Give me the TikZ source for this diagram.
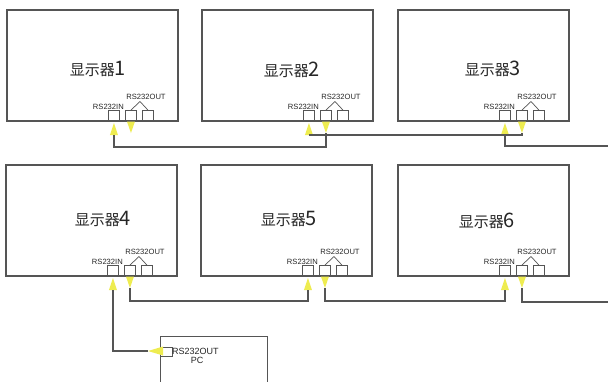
\documentclass[tikz,border=0pt]{standalone}
\usepackage{fontspec}
\setmainfont{Liberation Sans}
\newfontfamily\cjk{Noto Sans CJK SC}
\usetikzlibrary{calc}
\definecolor{ln}{RGB}{85,85,85}
\definecolor{ylw}{RGB}{238,236,80}
\newcommand\dispunit[6]{%
  \node[dispbox] (#1) at ({#2+85.5},{#3-55.5}) {};
  \node[disptext] (#1t) at (#5,#6) {显示器{\fontsize{20}{20}\selectfont #4}};
  \node[port] (#1i) at ({#2+101},#3) {};
  \node[port] (#1o) at ({#2+118},#3) {};
  \node[port] (#1p) at ({#2+135},#3) {};
  \node[lab, anchor=east] (#1li) at ({#2+117},{#3-14}) {RS232IN};
  \node[lab] (#1lo) at ({#2+139},{#3-24}) {RS232OUT};
  \coordinate (#1v) at ({#2+133},{#3-19.5});
  \draw[vline] (#1o.north) -- (#1v) -- (#1p.north);
  \coordinate (#1it) at ($(#1i.south)+(0,2)$);
  \coordinate (#1ib) at ($(#1i.south)+(0,14)$);
  \fill[ylw] (#1it) -- ($(#1ib)+(-4,0)$) -- ($(#1ib)+(4,0)$) -- cycle;
  \coordinate (#1ob) at ($(#1o.south)+(0,0.5)$);
  \coordinate (#1ot) at ($(#1o.south)+(0,12)$);
  \fill[ylw] (#1ot) -- ($(#1ob)+(-4,0)$) -- ($(#1ob)+(4,0)$) -- cycle;
}
\begin{document}
\begin{tikzpicture}[x=1pt,y=-1pt,
  dispbox/.style={draw=ln, line width=1.2pt, minimum width=171pt, minimum height=111pt, inner sep=0pt},
  disptext/.style={font=\cjk\fontsize{15}{15}\selectfont, inner sep=0pt, text=black!85},
  port/.style={draw=ln, line width=0.9pt, minimum width=11pt, minimum height=10pt, inner sep=0pt, anchor=south west},
  lab/.style={font=\fontsize{7.6}{7.6}\selectfont, inner sep=0pt, text=black!85},
  vline/.style={draw=ln, line width=0.7pt},
  wire/.style={draw=ln, line width=1.2pt}]
\useasboundingbox (0,0) rectangle (608,381);
\fill[white] (0,0) rectangle (608,381);
\dispunit{d1}{7}{121}{1}{98}{69}
\dispunit{d2}{202}{121}{2}{292}{70}
\dispunit{d3}{398}{121}{3}{493}{69}
\dispunit{d4}{6}{276}{4}{103}{219}
\dispunit{d5}{201}{276}{5}{289}{219}
\dispunit{d6}{398}{276}{6}{487}{221}
% PC
\begin{scope}
\clip (0,0) rectangle (608,381);
\node[dispbox, minimum width=107pt, minimum height=70pt, anchor=north west] (pc) at (160,336) {};
\end{scope}
\node[draw=ln, line width=0.9pt, minimum width=12pt, minimum height=9pt, inner sep=0pt, anchor=west] (pcp) at (160,351.5) {};
\node[lab, font=\fontsize{9}{9}\selectfont, anchor=west] (pcl) at (172,351) {RS232OUT};
\node[lab, font=\fontsize{9}{9}\selectfont] (pcn) at (197,360) {PC};
\coordinate (pct) at (148,351);
\fill[ylw] (pct) -- (163,346.5) -- (163,355.5) -- cycle;
% edge coordinates
\coordinate (e1) at (608,146);
\coordinate (e2) at (608,302);
% connectors row 1
\draw[wire] (d1ib) -- ++(0,12) -| (d2ot);
\draw[wire] (d2ib) -| (d3ot);
\draw[wire] (d3ib) |- (e1);
% connectors row 2
\draw[wire] (d4ib) |- (pct);
\draw[wire] (d4ot) -- ++(0,13) -| (d5ib);
\draw[wire] (d5ot) -- ++(0,13) -| (d6ib);
\draw[wire] (d6ot) |- (e2);
\end{tikzpicture}
\end{document}
